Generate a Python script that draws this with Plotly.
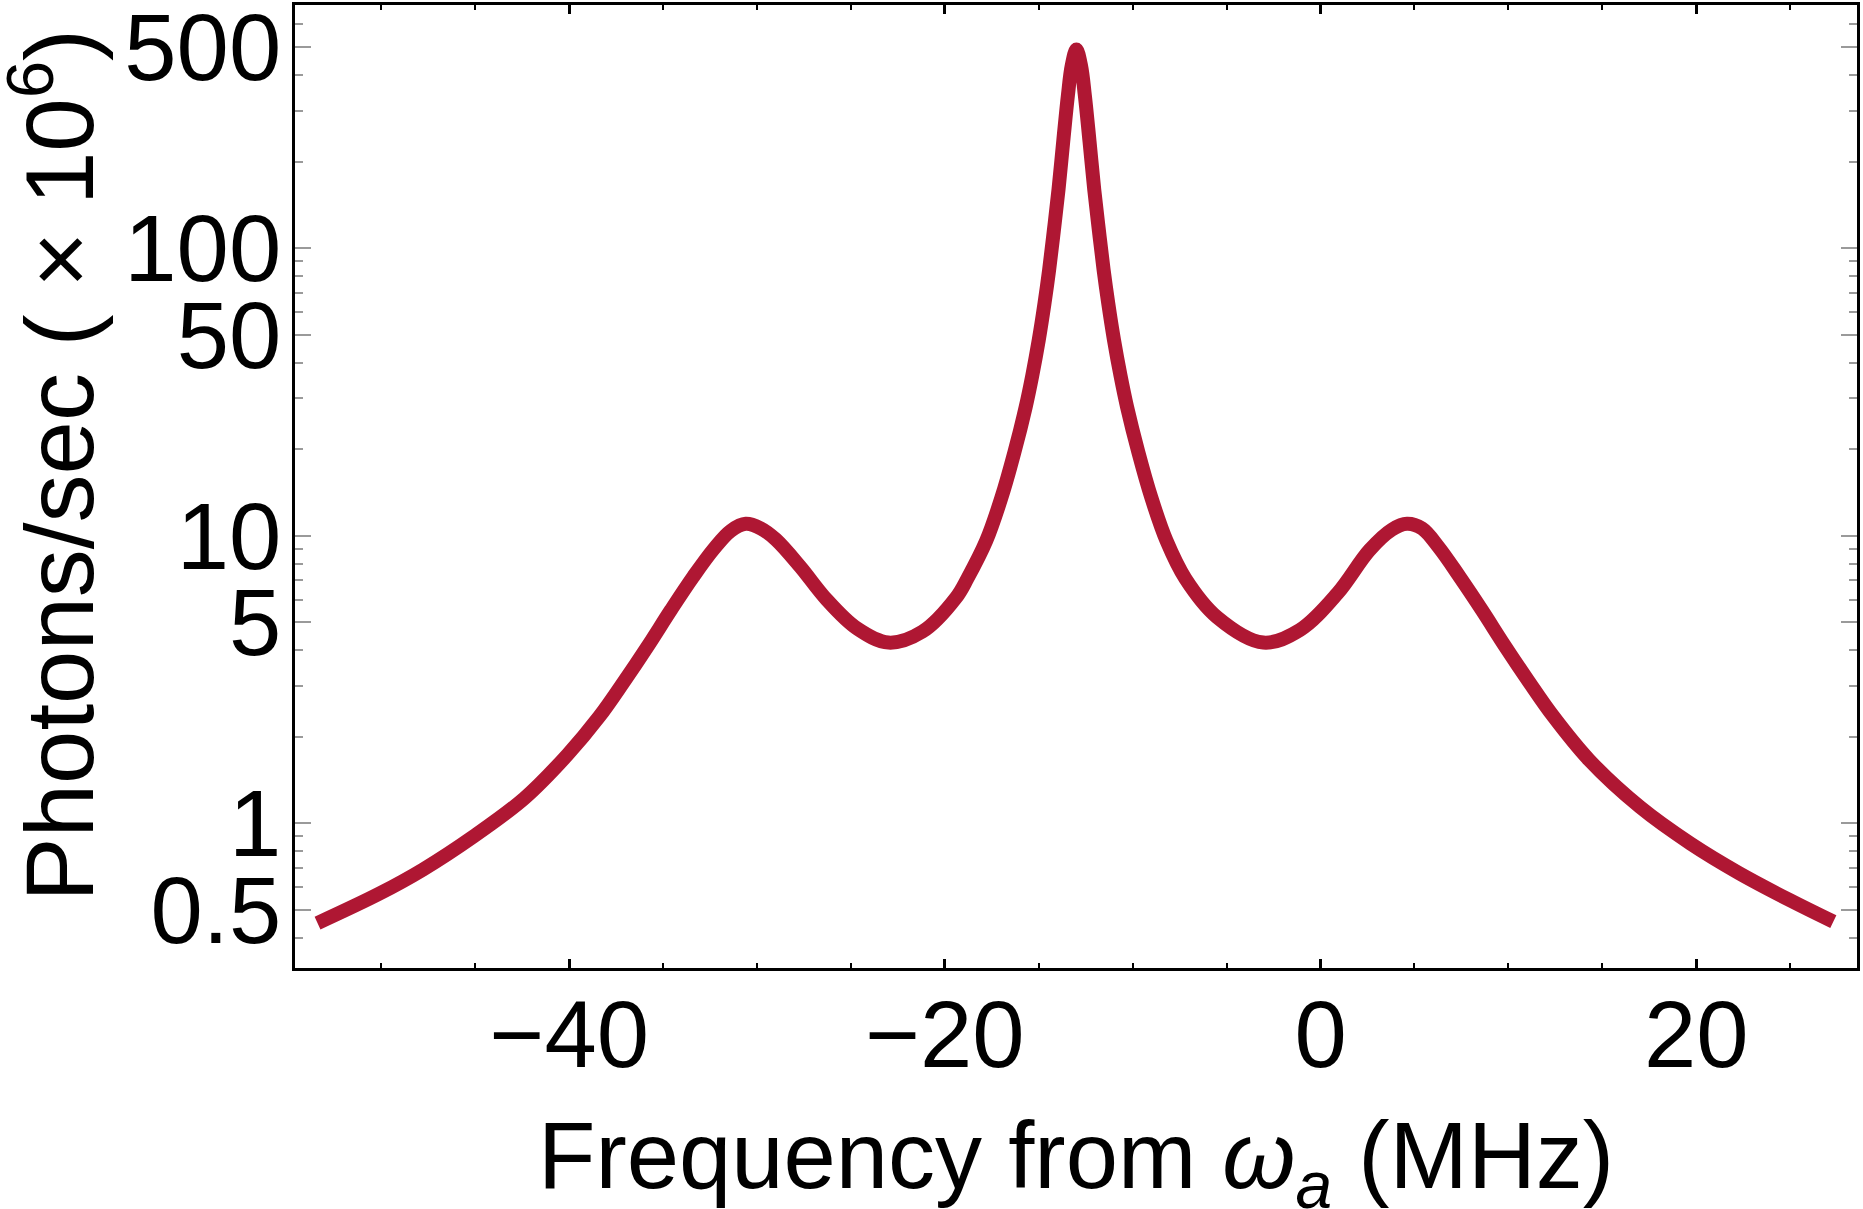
import plotly.graph_objects as go

# Curve (frequency in MHz, photons/sec in units of 1e6)
freq_mhz = [
    -53.4, -50.1, -47.8, -45.1, -42.4, -40.1, -38.4, -37.1, -35.8, -34.6,
    -33.4, -32.3, -31.4, -30.6, -29.8, -29.0, -27.7, -26.3, -24.7, -23.0,
    -21.2, -19.4, -18.8, -17.8, -17.0, -16.3, -15.7, -15.35, -15.0, -14.7,
    -14.45, -14.2, -13.95, -13.7, -13.45, -13.25, -13.0, -12.75, -12.55, -12.3,
    -12.05, -11.8, -11.55, -11.3, -11.0, -10.65, -10.3, -9.7, -9.0, -8.2,
    -7.2, -5.5, -3.05, -1.1, 0.9, 2.6, 3.8, 4.6, 5.4, 6.3,
    7.4, 8.6, 9.8, 11.1, 12.4, 14.3, 17.0, 19.7, 22.3, 25.0, 27.3,
]
photons_1e6 = [
    0.45, 0.57, 0.69, 0.90, 1.22, 1.73, 2.35, 3.1, 4.15, 5.5,
    7.2, 9.0, 10.4, 11.0, 10.6, 9.7, 7.8, 6.0, 4.77, 4.25,
    4.64, 6.1, 7.1, 9.6, 13.5, 19.5, 28, 36, 48, 64,
    84, 115, 160, 235, 340, 430, 490, 430, 340, 235,
    160, 115, 84, 64, 48, 36, 28, 19.5, 13.5, 9.6,
    7.1, 5.2, 4.25, 4.7, 6.3, 8.9, 10.5, 11.0, 10.6, 9.1,
    7.2, 5.5, 4.15, 3.1, 2.35, 1.66, 1.14, 0.85, 0.67, 0.54, 0.455,
]

x_tick_vals = [-40, -20, 0, 20]
x_tick_text = ["\u221240", "\u221220", "0", "20"]
x_minor_vals = [-50, -45, -35, -30, -25, -15, -10, -5, 5, 10, 15, 25]

y_tick_vals = [0.5, 1, 5, 10, 50, 100, 500]
y_tick_text = ["0.5", "1", "5", "10", "50", "100", "500"]
y_minor_vals = [0.4, 0.6, 0.7, 0.8, 0.9, 2, 3, 4, 6, 7, 8, 9,
                20, 30, 40, 60, 70, 80, 90, 200, 300, 400, 600, 700]

x_title = "Frequency from <i>\u03c9</i><sub><i>a</i></sub> (MHz)"
y_title = "Photons/sec ( \u00d7 10<sup>6</sup>)"

FONT = "Liberation Sans, Arial, sans-serif"
LINE_COLOR = "#AF1733"

fig = go.Figure(
    go.Scatter(
        x=freq_mhz,
        y=photons_1e6,
        mode="lines",
        line=dict(color=LINE_COLOR, width=14, shape="spline", smoothing=1.0),
        hoverinfo="skip",
        showlegend=False,
    )
)

fig.update_layout(
    width=1863,
    height=1209,
    autosize=False,
    margin=dict(l=295, r=6, t=5, b=241),
    paper_bgcolor="white",
    plot_bgcolor="white",
    font=dict(family=FONT, size=94, color="black"),
    showlegend=False,
)

fig.update_xaxes(
    range=[-54.6, 28.56],
    automargin=False,
    tickmode="array",
    tickvals=x_tick_vals,
    ticktext=x_tick_text,
    ticks="inside",
    ticklen=9,
    tickwidth=2.5,
    tickcolor="black",
    minor=dict(tickmode="array", tickvals=x_minor_vals, ticks="inside",
               ticklen=5, tickwidth=2, tickcolor="black", showgrid=False),
    showline=True,
    linecolor="black",
    linewidth=3,
    mirror="ticks",
    showgrid=False,
    zeroline=False,
    tickfont=dict(family=FONT, size=94, color="black"),
    ticklabelstandoff=-17,
    ticklabeloverflow="allow",
)

fig.update_yaxes(
    type="log",
    range=[-0.5031, 2.8453],
    automargin=False,
    tickmode="array",
    tickvals=y_tick_vals,
    ticktext=y_tick_text,
    ticks="inside",
    ticklen=16,
    tickwidth=1.5,
    tickcolor="#9a9a9a",
    minor=dict(tickmode="array", tickvals=y_minor_vals, ticks="inside",
               ticklen=8, tickwidth=1.5, tickcolor="#9a9a9a", showgrid=False),
    showline=True,
    linecolor="black",
    linewidth=3,
    mirror="ticks",
    showgrid=False,
    zeroline=False,
    tickfont=dict(family=FONT, size=94, color="black"),
    ticklabelstandoff=-8,
    ticklabeloverflow="allow",
)

fig.add_annotation(
    text=x_title, xref="paper", yref="paper", x=0.5, y=-0.1381,
    xanchor="center", yanchor="top", showarrow=False,
    font=dict(family=FONT, size=94, color="black"),
)
fig.add_annotation(
    text=y_title, xref="paper", yref="paper", x=-0.1555, y=0.522,
    xanchor="center", yanchor="middle", textangle=-90, showarrow=False,
    font=dict(family=FONT, size=96, color="black"),
)

fig.write_html("out.html")
